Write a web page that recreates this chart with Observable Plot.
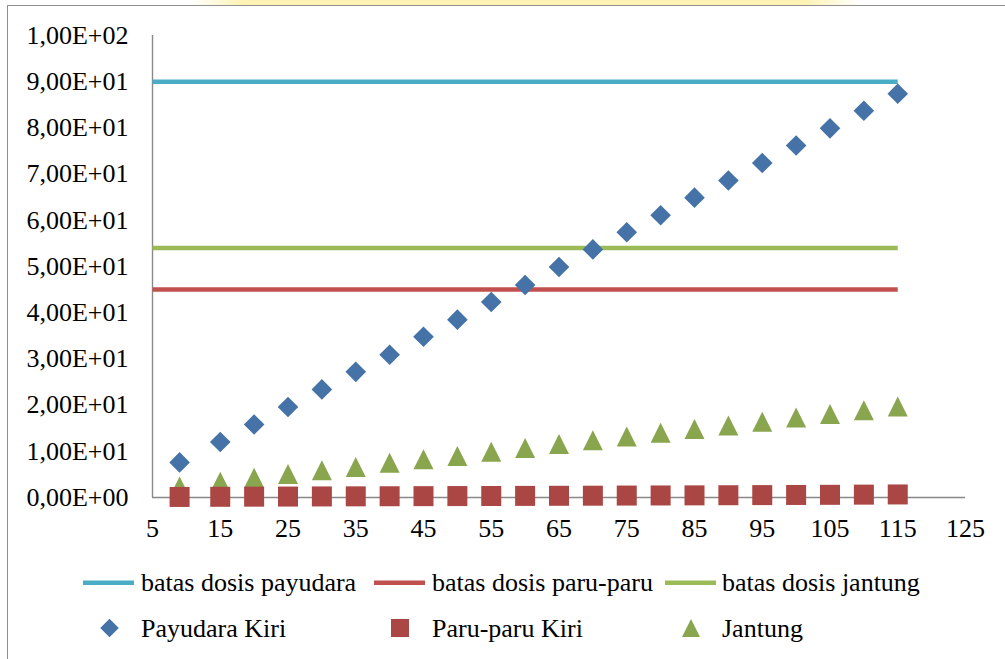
<!DOCTYPE html>
<html>
<head>
<meta charset="utf-8">
<script src="https://cdn.jsdelivr.net/npm/d3@7"></script>
<script src="https://cdn.jsdelivr.net/npm/@observablehq/plot@0.6"></script>
<style>
  html, body { margin: 0; padding: 0; background: #fff; }
  #wrap { position: relative; width: 1005px; height: 659px; overflow: hidden; font-family: "Liberation Serif", serif; }
  #frame { position: absolute; left: 7px; top: 5px; width: 1100px; height: 800px; border: 1.5px solid #8f8f8f; box-sizing: border-box; }
  #band { position: absolute; left: 190px; top: 0; width: 670px; height: 5px;
          background: linear-gradient(to right, rgba(253,245,180,0), #fcf3b4 8%, #fcf3b4 92%, rgba(253,245,180,0)); }
  #chart { position: absolute; left: 0; top: 0; }
  #legend { position: absolute; left: 0; top: 545px; }
  #chart text, #legend text { font-family: "Liberation Serif", serif; }
</style>
</head>
<body>
<div id="wrap">
  <div id="band"></div>
  <div id="frame"></div>
  <div id="chart"></div>
  <div id="legend"></div>
</div>
<script>
// Field sizes (x) at which the organ doses were computed
const fieldX = [9, 15, 20, 25, 30, 35, 40, 45, 50, 55, 60, 65, 70, 75, 80, 85, 90, 95, 100, 105, 110, 115];

// Dose per organ
const payudaraKiri = [7.6, 12.0, 15.8, 19.6, 23.4, 27.2, 30.9, 34.8, 38.5, 42.3, 46.0, 49.9, 53.7, 57.4, 61.1, 64.9, 68.6, 72.4, 76.2, 79.9, 83.7, 87.4];
const paruKiri     = [0.12, 0.15, 0.18, 0.2, 0.23, 0.25, 0.27, 0.29, 0.31, 0.33, 0.35, 0.37, 0.39, 0.42, 0.44, 0.46, 0.49, 0.52, 0.55, 0.58, 0.62, 0.66];
const jantung      = [2.4, 3.4, 4.3, 5.1, 5.9, 6.6, 7.5, 8.3, 9.0, 9.9, 10.7, 11.6, 12.4, 13.2, 14.0, 14.8, 15.6, 16.4, 17.3, 18.1, 18.9, 19.7];

// Dose limits, drawn as horizontal lines across the field range
const limitNames  = ["batas dosis payudara", "batas dosis paru-paru", "batas dosis jantung"];
const limitValues = [90, 45, 54];
const limitRange  = [5, 115];
const limitColors = ["#4BACC6", "#C0504D", "#9BBB59"];

const pointNames  = ["Payudara Kiri", "Paru-paru Kiri", "Jantung"];
const pointColors = ["#4572A7", "#AA4643", "#89A54E"];

// Axis ticks
const xTicks = [5, 15, 25, 35, 45, 55, 65, 75, 85, 95, 105, 115, 125];
const yTicks = [0, 10, 20, 30, 40, 50, 60, 70, 80, 90, 100];
const yTickLabels = ["0,00E+00", "1,00E+01", "2,00E+01", "3,00E+01", "4,00E+01", "5,00E+01",
                     "6,00E+01", "7,00E+01", "8,00E+01", "9,00E+01", "1,00E+02"];

// Marker shapes: r is the half-width of the bounding box
const half = size => Math.sqrt(size / Math.PI);
const diamondSym = { draw(ctx, size) { const r = half(size) * 1.03;
  ctx.moveTo(0, -r); ctx.lineTo(r, 0); ctx.lineTo(0, r); ctx.lineTo(-r, 0); ctx.closePath(); } };
const squareSym = { draw(ctx, size) { const r = half(size);
  ctx.moveTo(-r, -r); ctx.lineTo(r, -r); ctx.lineTo(r, r); ctx.lineTo(-r, r); ctx.closePath(); } };
const triangleSym = { draw(ctx, size) { const r = half(size);
  ctx.moveTo(0, -r); ctx.lineTo(r, r); ctx.lineTo(-r, r); ctx.closePath(); } };

const pts = ys => fieldX.map((x, i) => ({x, y: ys[i]}));

const limitMarks = limitValues.map((v, i) =>
  Plot.line(limitRange.map(x => ({x, y: v})), {
    x: "x", y: "y", stroke: limitColors[i], strokeWidth: 4.5, strokeLinecap: "butt"
  })
);

const plot = Plot.plot({
  width: 1005,
  height: 545,
  marginLeft: 152,
  marginRight: 40,
  marginTop: 35,
  marginBottom: 48,
  style: { fontFamily: "'Liberation Serif', serif", fontSize: "26px", color: "#000", background: "transparent" },
  x: { domain: [5, 125] },
  y: { domain: [0, 100] },
  marks: [
    Plot.axisX({ ticks: xTicks, tickSize: 0, tickPadding: 21, label: null, fontSize: 26 }),
    Plot.axisY({ ticks: yTicks, tickSize: 0, tickPadding: 24, label: null, fontSize: 26,
                 tickFormat: d => yTickLabels[yTicks.indexOf(d)] }),
    Plot.ruleX([5], { y1: 0, y2: 100, stroke: "#898989", strokeWidth: 1.4 }),
    Plot.ruleY([0], { x1: 5, x2: 125, stroke: "#898989", strokeWidth: 1.4 }),
    ...limitMarks,
    Plot.dot(pts(jantung), { x: "x", y: "y", symbol: triangleSym, r: 10, fill: pointColors[2] }),
    Plot.dot(pts(paruKiri), { x: "x", y: "y", symbol: squareSym, r: 10, fill: pointColors[1] }),
    Plot.dot(pts(payudaraKiri), { x: "x", y: "y", symbol: diamondSym, r: 10, fill: pointColors[0] })
  ]
});
document.getElementById("chart").appendChild(plot);

// Legend: limit lines on the first row, point series on the second
const svg = d3.select("#legend").append("svg")
  .attr("width", 1005).attr("height", 114)
  .style("font-family", "'Liberation Serif', serif")
  .style("font-size", "26px");

const swatchX = [83, 374, 665];
const textX = [141, 432, 722];

limitNames.forEach((name, i) => {
  svg.append("line")
    .attr("x1", swatchX[i]).attr("x2", swatchX[i] + 51)
    .attr("y1", 37.7).attr("y2", 37.7)
    .attr("stroke", limitColors[i]).attr("stroke-width", 4.5);
  svg.append("text").attr("x", textX[i]).attr("y", 45.5).attr("fill", "#000").text(name);
});

const markerX = [109.5, 400, 691];
const legendSyms = [diamondSym, squareSym, triangleSym];
pointNames.forEach((name, i) => {
  const p = d3.path();
  legendSyms[i].draw(p, 9 * 9 * Math.PI);
  svg.append("path")
    .attr("transform", `translate(${markerX[i]},83)`)
    .attr("d", p.toString())
    .attr("fill", pointColors[i]);
  svg.append("text").attr("x", textX[i]).attr("y", 91.7).attr("fill", "#000").text(name);
});
</script>
</body>
</html>
